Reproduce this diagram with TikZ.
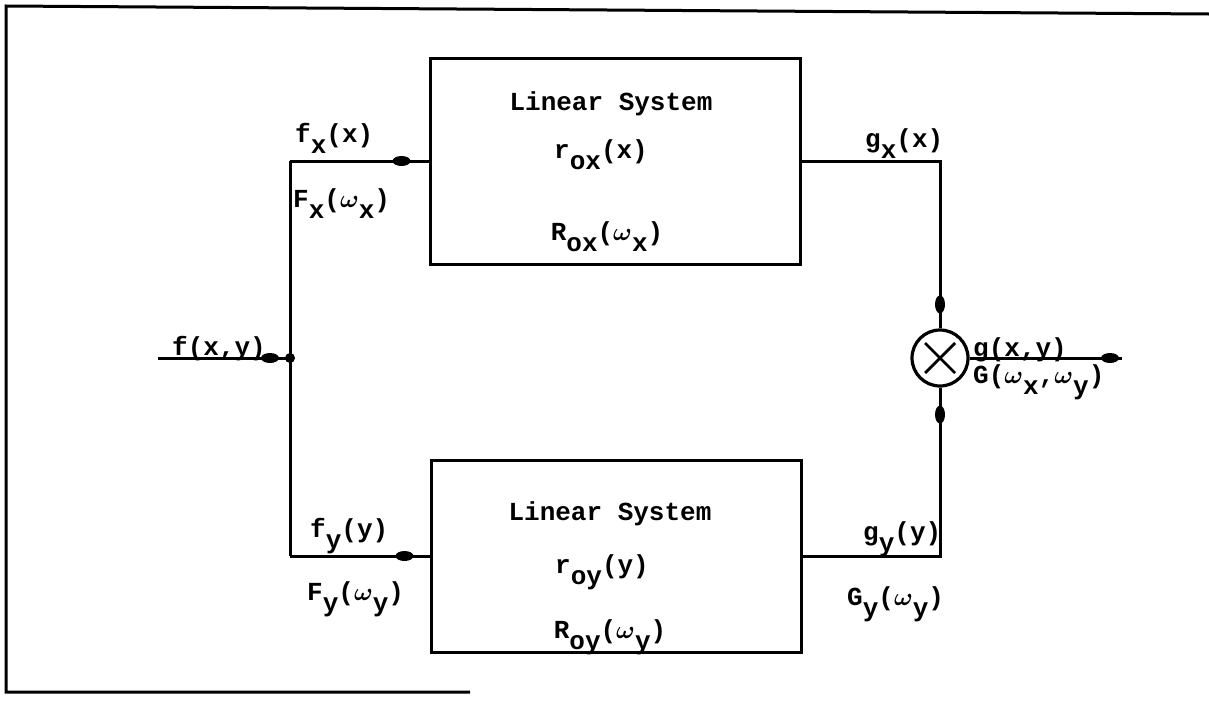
\documentclass[tikz,border=0pt]{standalone}
\usepackage{fontspec}
\setmonofont{Liberation Mono}
\usetikzlibrary{decorations.markings}
\newcommand{\dn}[1]{\raisebox{-0.45em}{#1}}
\newcommand{\om}{{\boldmath$\omega$}}
\newcommand{\lbfont}{\fontsize{26}{30}\selectfont\ttfamily\bfseries}
\tikzset{
  wire/.style={line width=3pt},
  lbl/.style={anchor=base west, inner sep=0pt, font=\lbfont},
  clbl/.style={anchor=base, inner sep=0pt, font=\lbfont},
  sysbox/.style={draw, line width=3pt, minimum width=370pt, inner sep=0pt},
  blob/.style={postaction={decorate, decoration={markings,
      mark=at position #1 with {\fill (0,0) ellipse (9pt and 5pt);}}}}
}
\begin{document}
\begin{tikzpicture}[x=1pt,y=-1pt]
\useasboundingbox (0,0) rectangle (1209,702);
% outer frame
\draw[line width=3pt] (1209,14) -- (6,6) -- (6,692) -- (470,692);
% boxes
\node[sysbox, minimum height=206pt] (top) at (615,161) {};
\node[sysbox, minimum height=192pt] (bot) at (616,556) {};
\node[circle, draw, line width=3.2pt, minimum size=56pt, inner sep=0pt] (mul) at (940,358) {};
\draw[line width=2.8pt] ([shift={(-15,-15)}]mul.center) -- ([shift={(15,15)}]mul.center);
\draw[line width=2.8pt] ([shift={(-15,15)}]mul.center) -- ([shift={(15,-15)}]mul.center);
% coordinates
\coordinate (in) at (158,358);
\coordinate (j) at (290,358);
\coordinate (jt) at (290,161);
\coordinate (jb) at (290,556);
\coordinate (out) at (1122,358);
% wires
\draw[wire, blob=112pt] (in) -- (j);
\fill (j) circle (5pt);
\draw[wire] (jt) -- (jb);
\draw[wire, blob=-27pt] (jt) -- (top.west);
\draw[wire, blob=-25pt] (jb) -- (bot.west);
\draw[wire, blob=-24pt] (top.east) -- (top.east -| mul) -- (mul.north);
\draw[wire, blob=-27pt] (bot.east) -- (bot.east -| mul) -- (mul.south);
\draw[wire, blob=-12pt] (mul.east) -- (out);
% box texts
\node[clbl] (t1) at (611,110) {Linear System};
\node[clbl] (t2) at (601,158) {r\dn{ox}(x)};
\node[clbl] (t3) at (607,240) {R\dn{ox}(\om\dn{x})};
\node[clbl] (b1) at (610,520) {Linear System};
\node[clbl] (b2) at (602,573) {r\dn{oy}(y)};
\node[clbl] (b3) at (610,638) {R\dn{oy}(\om\dn{y})};
% signal labels
\node[lbl] (lfxy) at (172,355) {f(x,y)};
\node[lbl] (lfx) at (295,142) {f\dn{x}(x)};
\node[lbl] (lFx) at (293,207) {F\dn{x}(\om\dn{x})};
\node[lbl] (lfy) at (310,537) {f\dn{y}(y)};
\node[lbl] (lFy) at (307,600) {F\dn{y}(\om\dn{y})};
\node[lbl] (lgx) at (865,147) {g\dn{x}(x)};
\node[lbl] (lgy) at (863,540) {g\dn{y}(y)};
\node[lbl] (lGy) at (847,605) {G\dn{y}(\om\dn{y})};
\node[lbl] (lg) at (973,356) {g(x,y)};
\node[lbl] (lG) at (973,383) {G(\om\dn{x},\om\dn{y})};
\end{tikzpicture}
\end{document}
